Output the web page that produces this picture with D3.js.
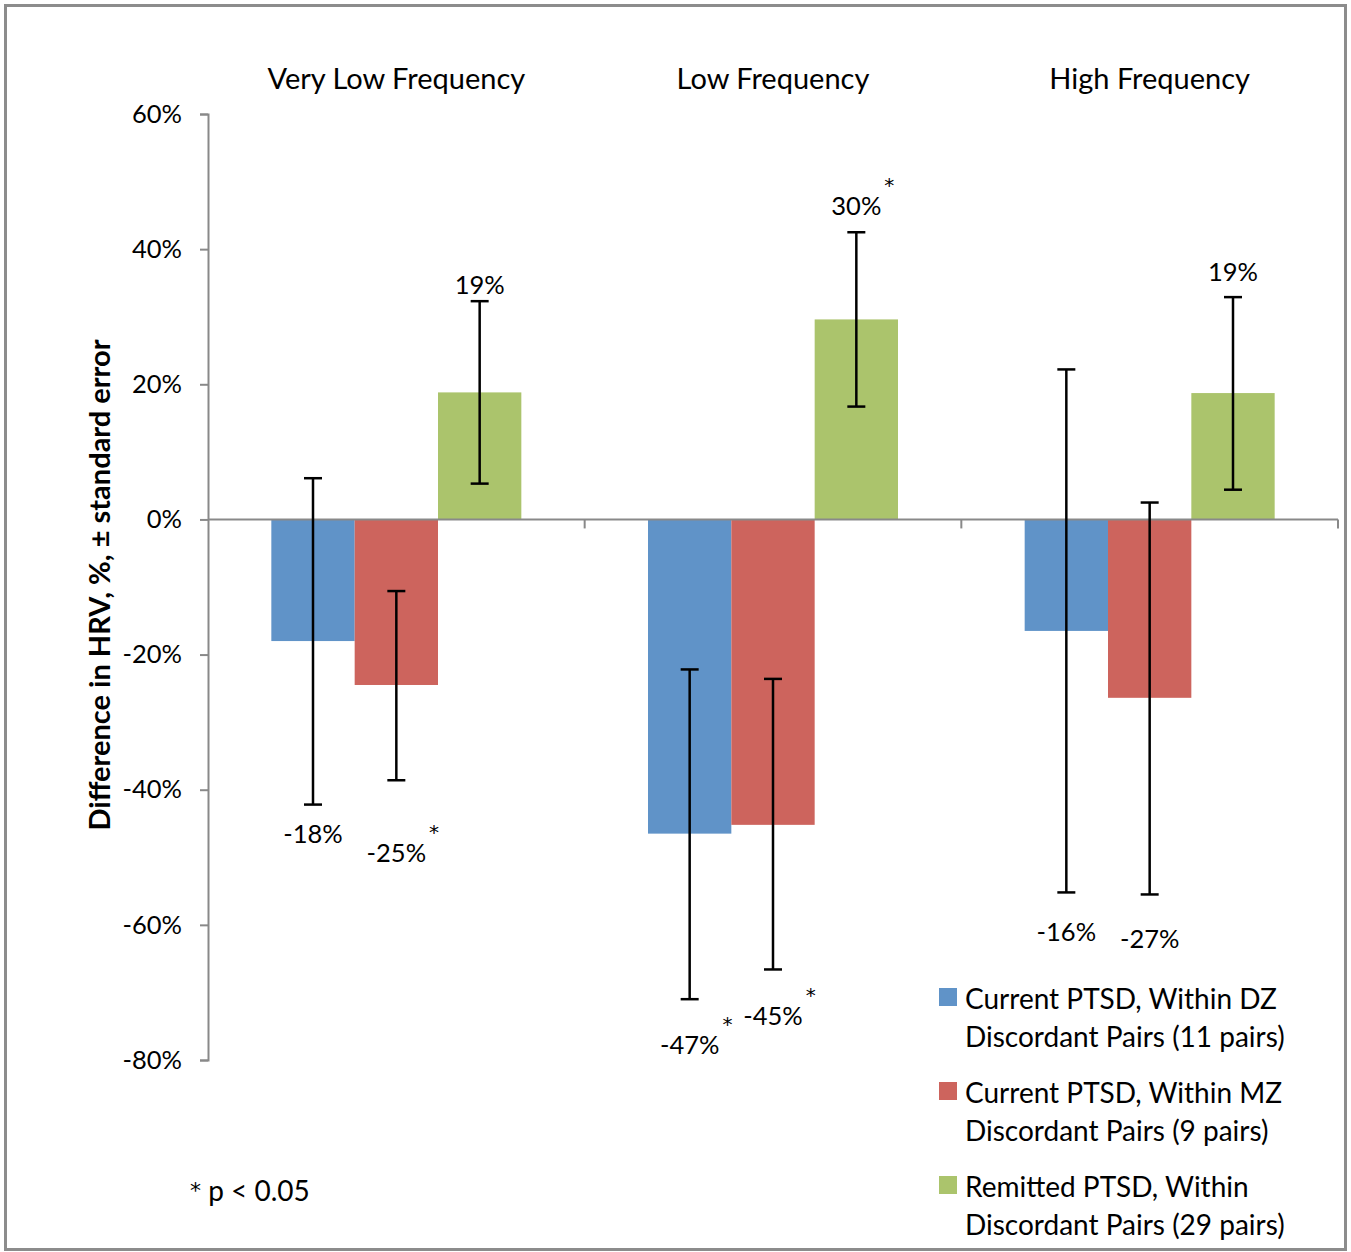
<!DOCTYPE html>
<html>
<head>
<meta charset="utf-8">
<script src="https://cdn.jsdelivr.net/npm/d3@7"></script>
<style>
  html, body { margin: 0; padding: 0; background: #fff; }
  svg { display: block; }
  text { font-family: Lato, "Open Sans", sans-serif; fill: #000; }
</style>
</head>
<body>
<svg id="chart" width="1351" height="1252"></svg>
<script>
// ---- data ----
const categories = ["Very Low Frequency", "Low Frequency", "High Frequency"];
const seriesNames = [
  ["Current PTSD, Within DZ", "Discordant Pairs (11 pairs)"],
  ["Current PTSD, Within MZ", "Discordant Pairs (9 pairs)"],
  ["Remitted PTSD, Within", "Discordant Pairs (29 pairs)"]
];
const seriesColors = ["#6093c8", "#cd645d", "#abc46c"];
// bar values (%) per series, per category
const dzValues = [-18, -46.5, -16.5];
const mzValues = [-24.5, -45.2, -26.4];
const remValues = [18.8, 29.6, 18.7];
// error bar ends (%)
const dzLow = [-42.2, -71.0, -55.2];
const dzHigh = [6.1, -22.2, 22.2];
const mzLow = [-38.6, -66.6, -55.5];
const mzHigh = [-10.6, -23.6, 2.5];
const remLow = [5.3, 16.7, 4.4];
const remHigh = [32.3, 42.5, 32.9];
// data labels
const dzLabels = ["-18%", "-47%", "-16%"];
const mzLabels = ["-25%", "-45%", "-27%"];
const remLabels = ["19%", "30%", "19%"];
const dzSig = [false, true, false];
const mzSig = [true, true, false];
const remSig = [false, true, false];
// label anchor values (%) where the labels sit
const dzLabelAt = [-46.4, -77.7, -60.9];
const mzLabelAt = [-49.2, -73.3, -61.9];
const remLabelAt = [34.9, 46.6, 36.7];
const yTicks = [-80, -60, -40, -20, 0, 20, 40, 60];

const values = [dzValues, mzValues, remValues];
const lows = [dzLow, mzLow, remLow];
const highs = [dzHigh, mzHigh, remHigh];
const labels = [dzLabels, mzLabels, remLabels];
const sigs = [dzSig, mzSig, remSig];
const labelAt = [dzLabelAt, mzLabelAt, remLabelAt];

const svg = d3.select("#chart");

// frame
svg.append("rect").attr("x", 5.5).attr("y", 5.5).attr("width", 1340).attr("height", 1244)
  .attr("fill", "#fff").attr("stroke", "#8c8c8c").attr("stroke-width", 3);

const x0 = 208, x1 = 1338, yTop = 114, yBot = 1060;
const y = d3.scaleLinear().domain([-80, 60]).range([yBot, yTop]);
const xCat = d3.scaleBand().domain(d3.range(categories.length)).range([x0, x1]).padding(0);
const groupW = 250;
const xSer = d3.scaleBand().domain(d3.range(3))
  .range([(xCat.bandwidth() - groupW) / 2, (xCat.bandwidth() + groupW) / 2]).padding(0);

const axisColor = "#898989";

// y axis
const yAxis = d3.axisLeft(y).tickValues(yTicks).tickSize(8).tickPadding(18)
  .tickFormat(d => d + "%");
const gy = svg.append("g").attr("transform", `translate(${x0},0)`).call(yAxis);
gy.select(".domain").attr("stroke", axisColor).attr("stroke-width", 2);
gy.selectAll(".tick line").attr("stroke", axisColor).attr("stroke-width", 2);
gy.selectAll(".tick text").style("font-size", "25.5px").style("font-family", "Lato, sans-serif").attr("fill", "#000");

// bars
const bars = [];
categories.forEach((c, ci) => {
  values.forEach((vals, si) => {
    bars.push({ ci, si, v: vals[ci], lo: lows[si][ci], hi: highs[si][ci],
      label: labels[si][ci], sig: sigs[si][ci], la: labelAt[si][ci] });
  });
});
const bx = d => xCat(d.ci) + xSer(d.si);
const bc = d => bx(d) + xSer.bandwidth() / 2;

svg.append("g").selectAll("rect").data(bars).join("rect")
  .attr("x", d => bx(d))
  .attr("width", xSer.bandwidth())
  .attr("y", d => y(Math.max(0, d.v)))
  .attr("height", d => Math.abs(y(d.v) - y(0)))
  .attr("fill", d => seriesColors[d.si]);

// x axis (at zero)
const xAxisG = svg.append("g").attr("transform", `translate(0,${y(0)})`);
xAxisG.append("line").attr("x1", x0).attr("x2", x1).attr("stroke", axisColor).attr("stroke-width", 2);
xAxisG.selectAll("line.tk").data(d3.range(1, categories.length + 1)).join("line")
  .attr("class", "tk")
  .attr("x1", i => i < categories.length ? xCat(i) : x1)
  .attr("x2", i => i < categories.length ? xCat(i) : x1)
  .attr("y1", 0).attr("y2", 9).attr("stroke", axisColor).attr("stroke-width", 2);

// error bars
const eg = svg.append("g").attr("stroke", "#000").attr("stroke-width", 2.5);
const capW = 9;
eg.selectAll("line.v").data(bars).join("line").attr("class", "v")
  .attr("x1", bc).attr("x2", bc).attr("y1", d => y(d.lo)).attr("y2", d => y(d.hi));
eg.selectAll("line.t").data(bars).join("line").attr("class", "t")
  .attr("x1", d => bc(d) - capW).attr("x2", d => bc(d) + capW)
  .attr("y1", d => y(d.hi)).attr("y2", d => y(d.hi));
eg.selectAll("line.b").data(bars).join("line").attr("class", "b")
  .attr("x1", d => bc(d) - capW).attr("x2", d => bc(d) + capW)
  .attr("y1", d => y(d.lo)).attr("y2", d => y(d.lo));

// data labels
const lg = svg.append("g");
bars.forEach(d => {
  const t = lg.append("text")
    .attr("x", bc(d)).attr("y", y(d.la))
    .attr("text-anchor", "middle").attr("dominant-baseline", "central")
    .style("font-size", "25.5px").text(d.label);
  if (d.sig) {
    const w = t.node().getComputedTextLength();
    lg.append("text").attr("x", bc(d) + w / 2 + 3).attr("y", y(d.la) - 20)
      .attr("text-anchor", "start").attr("dominant-baseline", "central")
      .style("font-family", "'DejaVu Sans', sans-serif")
      .style("font-size", "20px").text("*");
  }
});

// category titles
svg.append("g").selectAll("text").data(categories).join("text")
  .attr("x", (c, i) => xCat(i) + xCat.bandwidth() / 2)
  .attr("y", 77).attr("text-anchor", "middle").attr("dominant-baseline", "central")
  .style("font-size", "29px").text(c => c);

// y axis title
svg.append("text")
  .attr("transform", `translate(98,585) rotate(-90)`)
  .attr("text-anchor", "middle").attr("dominant-baseline", "central")
  .style("font-size", "29px").style("font-weight", "bold")
  .text("Difference in HRV, %, \u00B1 standard error");

// legend
const leg = svg.append("g").attr("transform", "translate(939,988)");
seriesNames.forEach((lines, i) => {
  const g = leg.append("g").attr("transform", `translate(0,${i * 94})`);
  g.append("rect").attr("width", 18).attr("height", 18).attr("fill", seriesColors[i]);
  lines.forEach((ln, j) => {
    g.append("text").attr("x", 26).attr("y", 10 + j * 38)
      .attr("dominant-baseline", "central").style("font-size", "28px").text(ln);
  });
});

// footnote
const fn = svg.append("text").attr("x", 190).attr("y", 1190).attr("dominant-baseline", "central")
  .style("font-size", "28px");
fn.append("tspan").style("font-family", "'DejaVu Sans', sans-serif").style("font-size", "22px").text("*");
fn.append("tspan").text(" p < 0.05");
</script>
</body>
</html>
